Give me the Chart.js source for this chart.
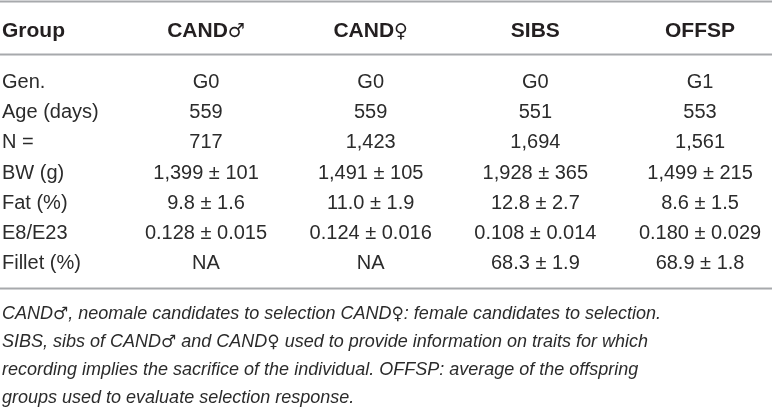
<!DOCTYPE html>
<html>
<head>
<meta charset="utf-8">
<title>Groups table</title>
<script src="https://cdn.jsdelivr.net/npm/chart.js@4.4.1/dist/chart.umd.min.js"></script>
<style>
    html, body { margin: 0; padding: 0; background: #fff; }
    #table__groups { display: block; }
</style>
</head>
<body>
<canvas id="table__groups" width="772" height="408"></canvas>
<script>
(function () {
    const headCorner = 'Group'
    const groups = ['CAND♂', 'CAND♀', 'SIBS', 'OFFSP']
    const rowLabels = ['Gen.', 'Age (days)', 'N =', 'BW (g)', 'Fat (%)', 'E8/E23', 'Fillet (%)']

    const generation = ['G0', 'G0', 'G0', 'G1']
    const ageDays = [559, 559, 551, 553]
    const count = [717, 1423, 1694, 1561]
    const bwMean = [1399, 1491, 1928, 1499]
    const bwSd = [101, 105, 365, 215]
    const fatMean = [9.8, 11.0, 12.8, 8.6]
    const fatSd = [1.6, 1.9, 2.7, 1.5]
    const e8Mean = [0.128, 0.124, 0.108, 0.180]
    const e8Sd = [0.015, 0.016, 0.014, 0.029]
    const filletMean = [null, null, 68.3, 68.9]
    const filletSd = [null, null, 1.9, 1.8]

    const caption = [
        'CAND♂, neomale candidates to selection CAND♀: female candidates to selection.',
        'SIBS, sibs of CAND♂ and CAND♀ used to provide information on traits for which',
        'recording implies the sacrifice of the individual. OFFSP: average of the offspring',
        'groups used to evaluate selection response.'
    ]

    const thousands = v => v.toLocaleString('en-US')
    const fixed = digits => v => v.toFixed(digits)
    const meanSd = (m, s, fmt) => m === null ? 'NA' : fmt(m) + ' ± ' + fmt(s)

    const cellsFor = i => [
        generation[i],
        String(ageDays[i]),
        thousands(count[i]),
        meanSd(bwMean[i], bwSd[i], thousands),
        meanSd(fatMean[i], fatSd[i], fixed(1)),
        meanSd(e8Mean[i], e8Sd[i], fixed(3)),
        meanSd(filletMean[i], filletSd[i], fixed(1))
    ]

    const FONT = '"Liberation Sans", Arial, sans-serif'
    const SYMBOL_FONT = '"DejaVu Sans", sans-serif'
    const INK = '#231f20'
    const RULE = '#a7a9ac'

    // text with the sex symbols set in a font where they are full size
    function drawMixed(ctx, text, x, y, style, size, align) {
        const parts = text.split(/([♂♀])/).filter(p => p !== '')
        const fontOf = p => /[♂♀]/.test(p)
            ? style.replace('bold', '').trim() + ' ' + Math.round(size * 0.92) + 'px ' + SYMBOL_FONT
            : style + ' ' + size + 'px ' + FONT
        const widths = parts.map(p => { ctx.font = fontOf(p); return ctx.measureText(p).width })
        const total = widths.reduce((a, b) => a + b, 0)
        let cx = align === 'center' ? x - total / 2 : x
        ctx.textAlign = 'left'
        parts.forEach((p, k) => {
            ctx.font = fontOf(p)
            ctx.fillText(p, cx, y)
            cx += widths[k]
        })
    }

    // draws the table text and rules on top of the (invisible) scatter cells
    const tablePlugin = {
        id: 'tableText',
        afterDatasetsDraw(chart) {
            const { ctx, chartArea, scales } = chart
            const y = scales.y
            const rowTop = y.getPixelForValue(0)
            const rowBottom = y.getPixelForValue(rowLabels.length - 1)
            const left = chartArea.left + 2

            ctx.save()
            ctx.textBaseline = 'alphabetic'

            // rules
            ctx.fillStyle = RULE
            ctx.fillRect(chartArea.left, rowTop - 80.5, chartArea.width, 2)
            ctx.fillRect(chartArea.left, rowTop - 27.5, chartArea.width, 2)
            ctx.fillRect(chartArea.left, rowBottom + 25.5, chartArea.width, 2)

            // header
            const headY = rowTop - 52 + 7.5
            ctx.fillStyle = INK
            drawMixed(ctx, headCorner, left, headY, 'bold', 21, 'left')
            chart.data.datasets.forEach((ds, i) => {
                const el = chart.getDatasetMeta(i).data[0]
                drawMixed(ctx, ds.label, el.x, headY, 'bold', 21, 'center')
            })

            // row labels
            ctx.font = '20px ' + FONT
            ctx.fillStyle = '#2b2b2b'
            ctx.textAlign = 'left'
            rowLabels.forEach((label, j) => {
                ctx.fillText(label, left, y.getPixelForValue(j) + 7)
            })

            // cells
            ctx.textAlign = 'center'
            chart.data.datasets.forEach((ds, i) => {
                chart.getDatasetMeta(i).data.forEach((el, j) => {
                    ctx.fillText(ds.data[j].cell, el.x, el.y + 7)
                })
            })

            // caption
            caption.forEach((line, k) => {
                drawMixed(ctx, line, left, rowBottom + 51 + 6 + k * 28, 'italic', 18, 'left')
            })

            ctx.restore()
        }
    }

    new Chart(
        document.getElementById('table__groups'),
        {
            type: 'scatter',
            data: {
                datasets: groups.map((group, i) => ({
                    label: group,
                    data: cellsFor(i).map((cell, j) => ({ x: i + 1, y: j, cell: cell })),
                    pointRadius: 0,
                    pointHoverRadius: 0
                }))
            },
            options: {
                responsive: false,
                animation: false,
                events: [],
                layout: { padding: 0 },
                plugins: {
                    legend: { display: false },
                    tooltip: { enabled: false }
                },
                scales: {
                    x: { type: 'linear', display: false, min: -0.251, max: 4.437 },
                    y: { type: 'linear', display: false, reverse: true, min: -2.685, max: 10.839 }
                }
            },
            plugins: [tablePlugin]
        }
    );
})();
</script>
</body>
</html>
